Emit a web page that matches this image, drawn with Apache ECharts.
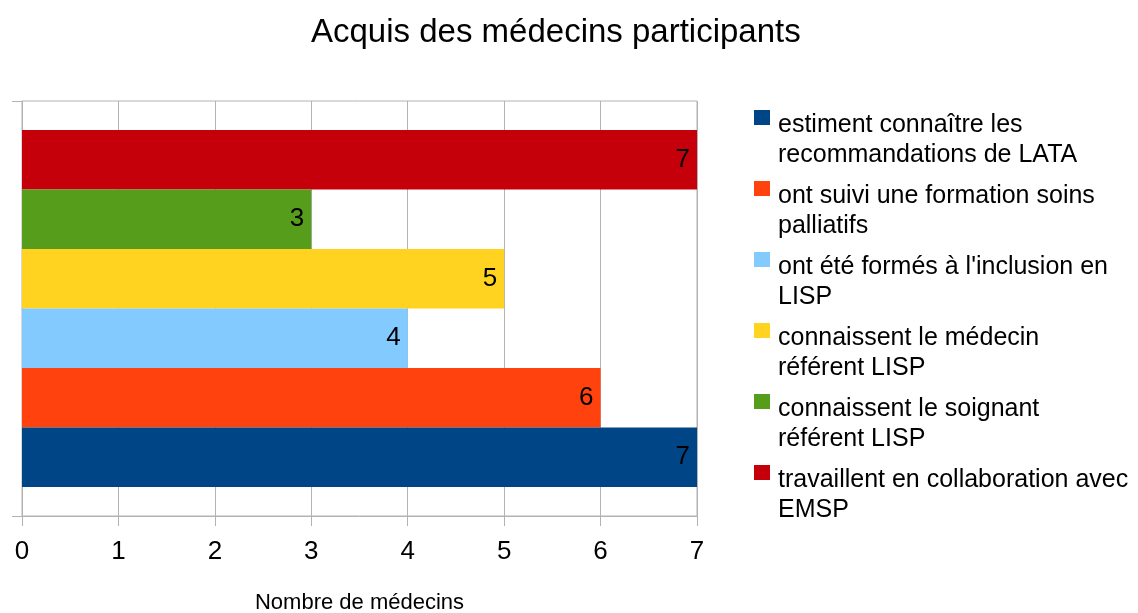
<!DOCTYPE html>
<html>
<head>
<meta charset="utf-8">
<script src="https://cdn.jsdelivr.net/npm/echarts@6/dist/echarts.min.js"></script>
<style>html,body{margin:0;padding:0;background:#fff;}#c{width:1138px;height:613px;}</style>
</head>
<body>
<div id="c"></div>
<script>
const titleText = 'Acquis des médecins participants';
const axisName = 'Nombre de médecins';
const categories = [''];
const seriesNames = [
  'estiment connaître les\nrecommandations de LATA',
  'ont suivi une formation soins\npalliatifs',
  "ont été formés à l'inclusion en\nLISP",
  'connaissent le médecin\nréférent LISP',
  'connaissent le soignant\nréférent LISP',
  'travaillent en collaboration avec\nEMSP'
];
const seriesValues = [7, 6, 4, 5, 3, 7];
const colors = ['#004586', '#ff420e', '#83caff', '#ffd320', '#579d1c', '#c5000b'];
const xTicks = { min: 0, max: 7, interval: 1 };

const FONT = '"Liberation Sans", Arial, sans-serif';
const chart = echarts.init(document.getElementById('c'), null, { renderer: 'canvas' });
const series = [];
// first series drawn at the bottom: push in reverse so blue ends up lowest
for (let i = seriesNames.length - 1; i >= 0; i--) {
  series.push({
    name: seriesNames[i],
    type: 'bar',
    data: [seriesValues[i]],
    barGap: '0%',
    barCategoryGap: '14%',
    itemStyle: { color: colors[i] },
    label: {
      show: true,
      position: 'insideRight',
      distance: 7,
      color: '#000',
      fontSize: 26,
      fontFamily: FONT
    },
    emphasis: { disabled: true }
  });
}

chart.setOption({
  animation: false,
  backgroundColor: '#fff',
  title: {
    text: titleText,
    left: 306,
    top: 11,
    textStyle: { fontSize: 33, fontWeight: 'normal', color: '#000', fontFamily: FONT }
  },
  grid: {
    left: 22, right: 441, top: 101, bottom: 97,
    outerBoundsMode: 'none',
    containLabel: false,
    show: true, borderColor: '#b3b3b3', borderWidth: 1, backgroundColor: 'transparent'
  },
  legend: {
    orient: 'vertical',
    left: 754,
    top: 110,
    padding: 0,
    itemGap: 11,
    itemWidth: 16,
    itemHeight: 60,
    symbolKeepAspect: false,
    icon: 'path://M0,0L16,0L16,15L0,15Z M0,60L0.01,60L0,59.99Z',
    data: seriesNames,
    selectedMode: false,
    textStyle: {
      fontSize: 25,
      lineHeight: 30,
      color: '#000',
      fontFamily: FONT,
      padding: [0, 0, 0, 3]
    }
  },
  xAxis: {
    type: 'value',
    min: xTicks.min, max: xTicks.max, interval: xTicks.interval,
    name: axisName,
    nameLocation: 'middle',
    nameGap: 76,
    nameTextStyle: { fontSize: 22, color: '#000', fontFamily: FONT },
    axisLine: { show: true, lineStyle: { color: '#b3b3b3' } },
    axisTick: { show: true, length: 10, inside: false, lineStyle: { color: '#b3b3b3' } },
    axisLabel: { fontSize: 26, color: '#000', fontFamily: FONT, margin: 23 },
    splitLine: { show: true, lineStyle: { color: '#b3b3b3', width: 1 } }
  },
  yAxis: {
    type: 'category',
    data: categories,
    boundaryGap: true,
    axisLine: { show: true, lineStyle: { color: '#b3b3b3' } },
    axisTick: { show: true, length: 10, lineStyle: { color: '#b3b3b3' } },
    axisLabel: { show: false },
    splitLine: { show: false }
  },
  series: series
});
</script>
</body>
</html>
